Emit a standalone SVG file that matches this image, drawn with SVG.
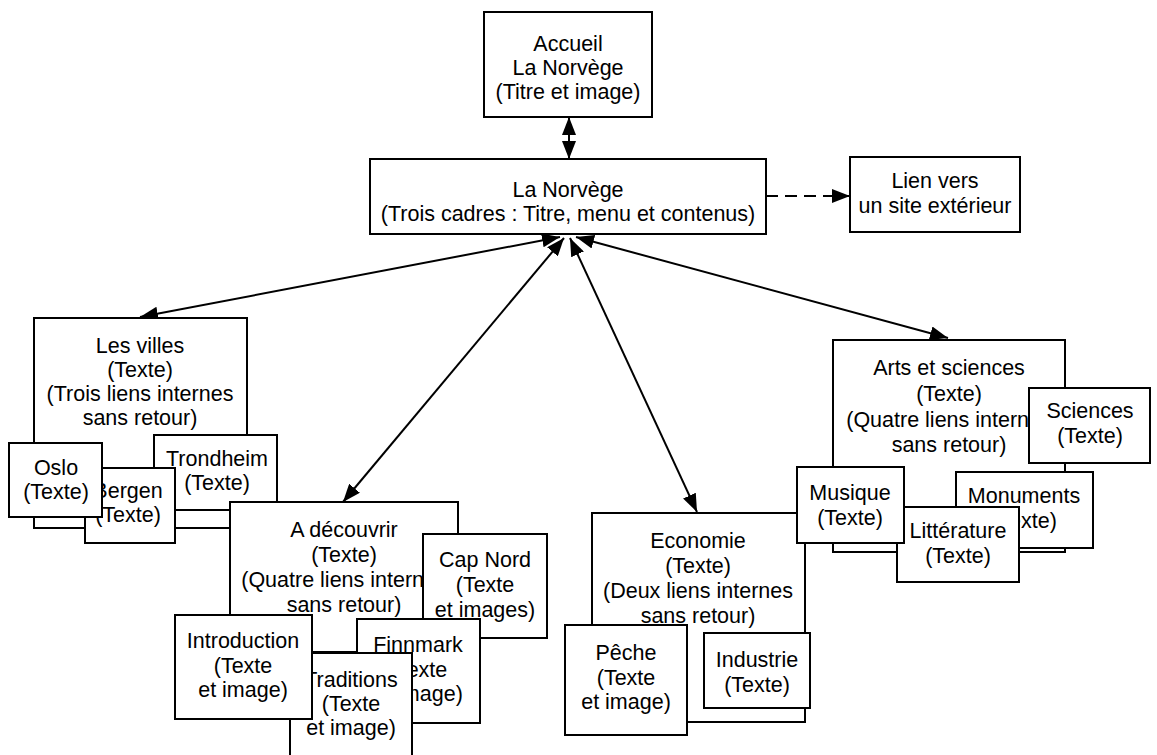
<svg xmlns="http://www.w3.org/2000/svg" width="1157" height="755" viewBox="0 0 1157 755">
<style>
  .box { fill: #ffffff; stroke: #000000; stroke-width: 2; }
  .t { font-family: "Liberation Sans", Arial, sans-serif; font-size: 21.5px; fill: #000000; text-anchor: middle; }
  .con { stroke: #000000; stroke-width: 2; fill: none; }
  .dash { stroke-dasharray: 12 7; }
</style>
<defs>
  <marker id="ah" viewBox="0 0 18 14" refX="18" refY="7" markerWidth="18" markerHeight="14" markerUnits="userSpaceOnUse" orient="auto-start-reverse">
    <path d="M0,0 L18,7 L0,14 z" fill="#000000"/>
  </marker>
</defs>
<rect width="1157" height="755" fill="#ffffff"/>

<g id="accueil">
  <rect class="box" x="484" y="12" width="168" height="105"/>
  <text class="t" x="568" y="51">Accueil</text>
  <text class="t" x="568" y="75">La Norvège</text>
  <text class="t" x="568" y="99">(Titre et image)</text>
</g>

<g id="norvege">
  <rect class="box" x="370" y="159" width="396" height="75"/>
  <text class="t" x="568" y="197">La Norvège</text>
  <text class="t" x="568" y="221">(Trois cadres : Titre, menu et contenus)</text>
</g>

<g id="lien">
  <rect class="box" x="850" y="157" width="170" height="75"/>
  <text class="t" x="935" y="188">Lien vers</text>
  <text class="t" x="935" y="213">un site extérieur</text>
</g>

<g id="connectors">
  <line class="con" x1="569" y1="117" x2="569" y2="159" marker-start="url(#ah)" marker-end="url(#ah)"/>
  <line class="con dash" x1="766" y1="196" x2="850" y2="196" marker-end="url(#ah)"/>
  <line class="con" x1="560" y1="237" x2="140" y2="317" marker-start="url(#ah)" marker-end="url(#ah)"/>
  <line class="con" x1="564" y1="238" x2="343" y2="502" marker-start="url(#ah)" marker-end="url(#ah)"/>
  <line class="con" x1="570" y1="238" x2="697" y2="512" marker-start="url(#ah)" marker-end="url(#ah)"/>
  <line class="con" x1="576" y1="237" x2="948" y2="338" marker-start="url(#ah)" marker-end="url(#ah)"/>
</g>

<g id="villes">
  <rect class="box" x="34" y="318" width="213" height="210"/>
  <text class="t" x="140" y="353">Les villes</text>
  <text class="t" x="140" y="377">(Texte)</text>
  <text class="t" x="140" y="401">(Trois liens internes</text>
  <text class="t" x="140" y="425">sans retour)</text>
</g>
<g id="trondheim">
  <rect class="box" x="154" y="435" width="123" height="75"/>
  <text class="t" x="217" y="466">Trondheim</text>
  <text class="t" x="217" y="490">(Texte)</text>
</g>
<g id="bergen">
  <rect class="box" x="85" y="468" width="90" height="75"/>
  <text class="t" x="128" y="498">Bergen</text>
  <text class="t" x="128" y="522">(Texte)</text>
</g>
<g id="oslo">
  <rect class="box" x="9" y="443" width="93" height="74"/>
  <text class="t" x="56" y="475">Oslo</text>
  <text class="t" x="56" y="499">(Texte)</text>
</g>

<g id="decouvrir">
  <rect class="box" x="230" y="502" width="228" height="150"/>
  <text class="t" x="344" y="537">A découvrir</text>
  <text class="t" x="344" y="562">(Texte)</text>
  <text class="t" x="344" y="587">(Quatre liens internes</text>
  <text class="t" x="344" y="612">sans retour)</text>
</g>
<g id="capnord">
  <rect class="box" x="423" y="534" width="124" height="104"/>
  <text class="t" x="485" y="567">Cap Nord</text>
  <text class="t" x="485" y="592">(Texte</text>
  <text class="t" x="485" y="617">et images)</text>
</g>
<g id="finnmark">
  <rect class="box" x="357" y="619" width="123" height="104"/>
  <text class="t" x="418" y="652">Finnmark</text>
  <text class="t" x="418" y="677">(Texte</text>
  <text class="t" x="418" y="701">et image)</text>
</g>
<g id="traditions">
  <rect class="box" x="290" y="653" width="122" height="110"/>
  <text class="t" x="351" y="687">Traditions</text>
  <text class="t" x="351" y="711">(Texte</text>
  <text class="t" x="351" y="735">et image)</text>
</g>
<g id="introduction">
  <rect class="box" x="175" y="615" width="137" height="104"/>
  <text class="t" x="243" y="648">Introduction</text>
  <text class="t" x="243" y="673">(Texte</text>
  <text class="t" x="243" y="697">et image)</text>
</g>

<g id="economie">
  <rect class="box" x="592" y="513" width="213" height="209"/>
  <text class="t" x="698" y="548">Economie</text>
  <text class="t" x="698" y="573">(Texte)</text>
  <text class="t" x="698" y="598">(Deux liens internes</text>
  <text class="t" x="698" y="623">sans retour)</text>
</g>
<g id="peche">
  <rect class="box" x="565" y="625" width="122" height="110"/>
  <text class="t" x="626" y="660">Pêche</text>
  <text class="t" x="626" y="685">(Texte</text>
  <text class="t" x="626" y="709">et image)</text>
</g>
<g id="industrie">
  <rect class="box" x="704" y="633" width="106" height="75"/>
  <text class="t" x="757" y="667">Industrie</text>
  <text class="t" x="757" y="692">(Texte)</text>
</g>

<g id="arts">
  <rect class="box" x="833" y="340" width="232" height="212"/>
  <text class="t" x="949" y="375">Arts et sciences</text>
  <text class="t" x="949" y="401">(Texte)</text>
  <text class="t" x="949" y="427">(Quatre liens internes</text>
  <text class="t" x="949" y="452">sans retour)</text>
</g>
<g id="sciences">
  <rect class="box" x="1029" y="388" width="121" height="75"/>
  <text class="t" x="1090" y="418">Sciences</text>
  <text class="t" x="1090" y="443">(Texte)</text>
</g>
<g id="monuments">
  <rect class="box" x="956" y="472" width="137" height="76"/>
  <text class="t" x="1024" y="503">Monuments</text>
  <text class="t" x="1024" y="528">(Texte)</text>
</g>
<g id="litterature">
  <rect class="box" x="897" y="507" width="122" height="75"/>
  <text class="t" x="958" y="538">Littérature</text>
  <text class="t" x="958" y="563">(Texte)</text>
</g>
<g id="musique">
  <rect class="box" x="797" y="467" width="107" height="76"/>
  <text class="t" x="850" y="500">Musique</text>
  <text class="t" x="850" y="525">(Texte)</text>
</g>
</svg>
